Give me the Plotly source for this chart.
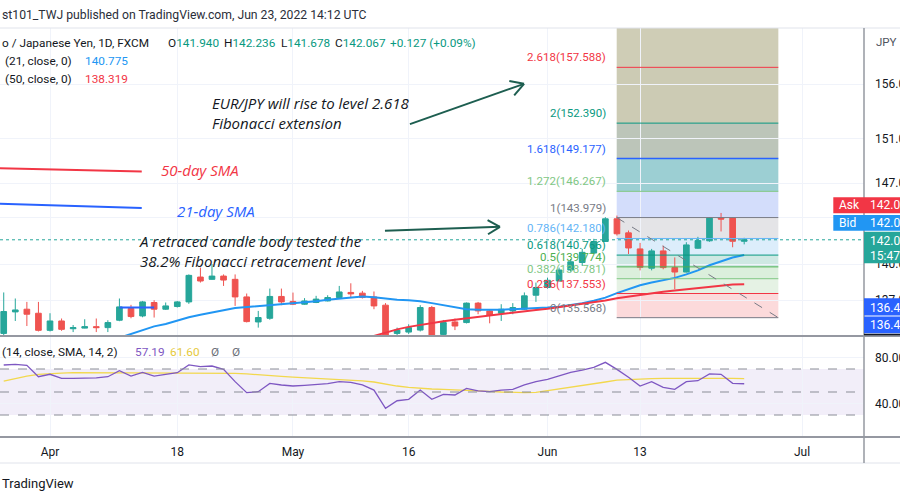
import math
import plotly.graph_objects as go

# ---------------- data ----------------
bar_index = list(range(-4, 61))
open_ = [134.29, 136.04, 136.26, 135.93, 134.54, 135.30, 134.67, 134.72, 134.84, 134.76,
         135.36, 136.32, 135.71, 136.81, 136.26, 136.48, 136.86, 138.92, 138.73, 139.00,
         138.73, 137.27, 135.22, 135.52, 137.31, 136.90, 136.67, 136.81, 136.94, 137.22,
         137.64, 137.58, 137.27, 136.59, 134.29, 134.40, 134.56, 136.40, 134.21, 135.22,
         135.17, 136.76, 136.12, 135.93, 136.12, 136.26, 137.41, 138.05, 138.59, 139.51,
         140.14, 140.94, 141.92, 143.87, 142.66, 141.29, 139.66, 141.12, 139.71, 139.34,
         141.35, 141.98, 143.93, 143.93, 141.940]
high = [137.64, 137.14, 136.86, 136.86, 135.93, 135.50, 134.97, 135.44, 135.50, 135.36,
        137.14, 136.62, 136.94, 137.00, 136.81, 136.94, 139.14, 139.71, 140.00, 139.14,
        139.14, 137.55, 136.12, 137.96, 137.96, 137.63, 137.17, 137.36, 137.41, 138.18,
        138.40, 137.77, 137.72, 136.76, 134.76, 135.03, 136.59, 136.53, 135.38, 135.50,
        136.81, 136.86, 136.20, 136.67, 136.76, 137.64, 138.46, 138.87, 139.71, 140.43,
        141.29, 142.15, 144.01, 144.15, 142.86, 141.80, 141.29, 141.57, 140.57, 141.86,
        142.32, 143.98, 144.38, 143.98, 142.236]
low = [133.90, 135.30, 134.89, 134.45, 134.45, 134.50, 134.40, 134.70, 134.40, 134.40,
       135.28, 135.52, 135.60, 135.58, 136.20, 136.40, 136.70, 138.46, 138.70, 138.18,
       136.53, 135.18, 134.76, 135.40, 136.59, 136.60, 136.62, 136.76, 136.90, 137.18,
       137.22, 137.14, 136.26, 133.50, 134.10, 134.25, 134.45, 133.60, 134.05, 134.56,
       135.10, 135.85, 135.11, 135.30, 135.85, 136.20, 136.86, 137.95, 138.55, 139.37,
       139.85, 140.90, 141.88, 142.43, 140.86, 139.48, 139.48, 139.57, 137.91, 139.30,
       141.30, 141.90, 142.78, 141.43, 141.678]
close = [136.07, 136.20, 135.85, 134.54, 135.30, 134.62, 134.76, 134.84, 134.76, 135.17,
         136.45, 135.66, 136.86, 136.26, 136.53, 136.86, 139.06, 138.59, 139.00, 138.67,
         137.27, 135.25, 135.58, 137.31, 136.86, 136.67, 136.94, 137.09, 137.22, 137.68,
         137.52, 137.22, 136.53, 133.70, 134.56, 134.76, 136.40, 133.80, 135.17, 134.89,
         136.76, 136.12, 135.77, 136.26, 136.40, 137.36, 138.05, 138.65, 139.51, 140.20,
         141.00, 141.92, 143.87, 142.58, 141.37, 139.74, 141.12, 139.71, 139.34, 141.63,
         142.00, 143.93, 143.85, 141.94, 142.067]

sma21_index = list(range(6, 61))
sma21 = [133.94, 134.25, 134.57, 134.86, 135.06, 135.36, 135.60, 135.81, 136.02, 136.18,
         136.35, 136.43, 136.51, 136.57, 136.67, 136.73, 136.81, 136.92, 137.04, 137.14,
         137.22, 137.30, 137.25, 137.12, 137.04, 137.00, 136.92, 136.76, 136.59, 136.39,
         136.26, 136.22, 136.20, 136.22, 136.26, 136.30, 136.32, 136.39, 136.47, 136.59,
         136.76, 136.96, 137.21, 137.58, 137.91, 138.24, 138.46, 138.65, 138.85, 139.14,
         139.48, 139.91, 140.26, 140.56, 140.775]
sma50_index = list(range(28, 61))
sma50 = [134.08, 134.37, 134.62, 134.82, 134.99, 135.13, 135.28, 135.40, 135.52, 135.63,
         135.74, 135.89, 135.99, 136.10, 136.20, 136.30, 136.43, 136.55, 136.67, 136.81,
         136.98, 137.16, 137.31, 137.45, 137.58, 137.70, 137.80, 137.91, 138.01, 138.11,
         138.21, 138.29, 138.319]

rsi = [73.5, 74.1, 73.2, 63.3, 65.4, 61.9, 61.9, 61.9, 62.2, 63.3,
       68.5, 63.9, 67.1, 63.9, 65.4, 66.8, 73.5, 72.0, 72.6, 69.7,
       59.0, 49.4, 50.3, 57.5, 56.1, 55.2, 55.8, 56.4, 57.3, 59.0,
       58.4, 56.1, 51.7, 35.8, 42.4, 43.6, 51.7, 43.6, 48.0, 47.4,
       53.2, 50.9, 50.3, 51.7, 52.3, 56.1, 59.0, 61.0, 64.2, 67.1,
       69.1, 71.4, 75.8, 69.7, 62.8, 55.2, 59.0, 54.1, 52.3, 59.0,
       59.8, 65.7, 65.4, 57.5, 57.19]
rsi_ma = [59.5, 61.9, 63.9, 65.4, 66.2, 66.5, 66.8, 66.8, 66.8, 66.8,
          66.8, 66.7, 66.5, 66.5, 66.5, 66.4, 66.5, 66.7, 66.8, 66.8,
          66.2, 65.7, 64.8, 64.2, 63.6, 63.0, 62.5, 61.9, 61.3, 60.7,
          60.1, 59.6, 58.7, 56.7, 55.2, 54.1, 53.2, 52.6, 52.3, 52.0,
          51.7, 51.2, 50.6, 50.0, 49.4, 49.4, 49.7, 51.2, 52.6, 53.8,
          55.2, 57.0, 58.7, 60.4, 61.0, 61.3, 61.6, 61.9, 61.9, 62.2,
          62.2, 62.5, 62.2, 61.9, 61.60]

tick_index = [0, 11, 21, 31, 43, 51, 65]
tick_text = ["Apr", "18", "May", "16", "Jun", "13", "Jul"]
price_ticks = [137, 140, 144, 147, 151, 156]
price_tick_text = ["137.000", "140.000", "", "147.000", "151.000", "156.000"]
rsi_ticks = [40, 80]
rsi_levels = [30, 50, 70]

fib_levels = ["0", "0.236", "0.382", "0.5", "0.618", "0.786", "1", "1.272", "1.618", "2", "2.618"]
fib_prices = [135.568, 137.553, 138.781, 139.774, 140.766, 142.180, 143.979, 146.267, 149.177, 152.390, 157.588]
fib_colors = ["#787b86", "#f23645", "#81c784", "#4caf50", "#089981", "#64b5f6",
              "#787b86", "#81c784", "#2962ff", "#089981", "#f23645"]
fib_fills = ["#fcdadb", "#e5f2e4", "#dbefdc", "#cee8e3", "#dcedfb", "#e4e4e7",
             "#d3ddfb", "#9ccfd3", "#bcc5b9", "#cccbb4", "#cfcdb6"]
fib_x = [48.98, 62.95]

# ---------------- geometry ----------------
W, H = 900, 500
PX_R = 864          # right edge of panes
TOP, SEP, RB = 28, 336, 437
PH = RB - TOP
def py(Y):          # pixel row -> paper y
    return (RB - Y) / PH
def px(X):
    return X / PX_R

main_dom = [py(SEP), 1]
rsi_dom = [0, py(SEP)]
x_range = [-4.3215, 70.354]
y_range = [2.127373, 2.207791]
rsi_range = [10.87, 98.70]

UP, DN = "#26a69a", "#ef5350"
TXT = "#131722"
GRID = "#f0f3fa"
FONT = "Roboto"

fig = go.Figure()
fig.add_trace(go.Candlestick(
    x=bar_index, open=open_, high=high, low=low, close=close,
    increasing=dict(line=dict(color=UP, width=1), fillcolor=UP),
    decreasing=dict(line=dict(color=DN, width=1), fillcolor=DN),
    whiskerwidth=0, xaxis="x", yaxis="y", showlegend=False, hoverinfo="skip"))
fig.add_trace(go.Scatter(x=sma21_index, y=sma21, mode="lines",
                         line=dict(color="#2196f3", width=2), xaxis="x", yaxis="y",
                         showlegend=False, hoverinfo="skip"))
fig.add_trace(go.Scatter(x=sma50_index, y=sma50, mode="lines",
                         line=dict(color="#f23645", width=2), xaxis="x", yaxis="y",
                         showlegend=False, hoverinfo="skip"))
fig.add_trace(go.Scatter(x=bar_index, y=rsi_ma, mode="lines",
                         line=dict(color="#f2d84e", width=1.3), xaxis="x2", yaxis="y2",
                         showlegend=False, hoverinfo="skip"))
fig.add_trace(go.Scatter(x=bar_index, y=rsi, mode="lines",
                         line=dict(color="#7e57c2", width=1.3), xaxis="x2", yaxis="y2",
                         showlegend=False, hoverinfo="skip"))

shapes = []
# fib fills (between consecutive levels; last one up past the pane top)
for i in range(1, len(fib_prices) + 1):
    lo = fib_prices[i - 1]
    hi = fib_prices[i] if i < len(fib_prices) else 170.0
    shapes.append(dict(type="rect", xref="x", yref="y", x0=fib_x[0], x1=fib_x[1],
                       y0=lo, y1=hi, fillcolor=fib_fills[i - 1], line=dict(width=0),
                       layer="below"))
for p, c, lv in zip(fib_prices, fib_colors, fib_levels):
    shapes.append(dict(type="line", xref="x", yref="y", x0=fib_x[0], x1=fib_x[1],
                       y0=p, y1=p, line=dict(color=c, width=1.5 if lv == "1.618" else 1)))
shapes.append(dict(type="line", xref="x", yref="y", x0=fib_x[0], x1=fib_x[1],
                   y0=fib_prices[6], y1=fib_prices[0],
                   line=dict(color="#787b86", width=1, dash="dash")))
# RSI band and levels
shapes.append(dict(type="rect", xref="paper", yref="y2", x0=0, x1=1, y0=30, y1=70,
                   fillcolor="#f2eef9", line=dict(width=0), layer="below"))
for lv in rsi_levels:
    shapes.append(dict(type="line", xref="paper", yref="y2", x0=0, x1=1, y0=lv, y1=lv,
                       line=dict(color="#8a8d96", width=1, dash="dash")))
# last price dotted line
shapes.append(dict(type="line", xref="paper", yref="y", x0=0, x1=1, y0=close[-1], y1=close[-1],
                   line=dict(color="#26a69a", width=1, dash="dot")))
# drawing: blue short segment
shapes.append(dict(type="line", xref="x", yref="y", x0=6, x1=9, y0=136.4, y1=136.4,
                   line=dict(color="#2962ff", width=2)))
# drawing: SMA legend lines
shapes.append(dict(type="line", xref="x", yref="y", x0=-4.4, x1=7.93, y0=148.31, y1=148.01,
                   line=dict(color="#f23645", width=2)))
shapes.append(dict(type="line", xref="x", yref="y", x0=-4.4, x1=7.93, y0=145.18, y1=144.81,
                   line=dict(color="#2962ff", width=2)))
# drawing: arrows
ARW = "#1d5e50"
arrows = [
    [(31.11, 152.30), (40.97, 156.03), (39.70, 156.29), (40.12, 154.96)],
    [(28.95, 142.84), (38.89, 143.18), (37.82, 143.75), (37.86, 142.54)],
]
for s, t, h1, h2 in arrows:
    for a in (s, h1, h2):
        shapes.append(dict(type="line", xref="x", yref="y", x0=a[0], y0=a[1], x1=t[0], y1=t[1],
                           line=dict(color=ARW, width=2)))

# frame lines
shapes += [
    dict(type="line", xref="paper", yref="paper", x0=0, x1=W / PX_R, y0=py(TOP), y1=py(TOP),
         line=dict(color="#e0e3eb", width=1)),
    dict(type="line", xref="paper", yref="paper", x0=0, x1=W / PX_R, y0=py(SEP), y1=py(SEP),
         line=dict(color="#9598a1", width=2)),
    dict(type="line", xref="paper", yref="paper", x0=0, x1=W / PX_R, y0=py(RB), y1=py(RB),
         line=dict(color="#9598a1", width=2)),
    dict(type="line", xref="paper", yref="paper", x0=0, x1=W / PX_R, y0=py(463), y1=py(463),
         line=dict(color="#e0e3eb", width=1)),
    dict(type="line", xref="paper", yref="paper", x0=1, x1=1, y0=py(TOP), y1=py(463),
         line=dict(color="#9598a1", width=1.5)),
]
# right-scale price label boxes
boxes = [
    (833.3, 900, 197.3, 213.3, "#f23645"),
    (833.3, 900, 215.0, 230.7, "#2196f3"),
    (864, 900, 231.7, 263.3, "#26a69a"),
    (864, 900, 298.3, 315.6, "#2962ff"),
    (864, 900, 316.4, 333.3, "#2962ff"),
]
for x0, x1, y0, y1, c in boxes:
    shapes.append(dict(type="rect", xref="paper", yref="paper", x0=px(x0), x1=px(x1),
                       y0=py(y1), y1=py(y0), fillcolor=c, line=dict(width=0), layer="above"))
shapes.append(dict(type="line", xref="paper", yref="paper", x0=1, x1=W / PX_R,
                   y0=py(334.5), y1=py(334.5), line=dict(color="#131722", width=1.5)))

ann = []
def txt(x, y, s, color=TXT, size=12, xanchor="left", yanchor="middle", xref="paper",
        yref="paper", family=FONT, yshift=0):
    ann.append(dict(x=x, y=y, xref=xref, yref=yref, text=s, showarrow=False,
                    xanchor=xanchor, yanchor=yanchor, yshift=yshift, align="left",
                    font=dict(color=color, size=size, family=family)))

LF = 11.8
# header
txt(0, py(15), "st101_TWJ published on TradingView.com, Jun 23, 2022 14:12 UTC", "#2a2e39", 12.2)
txt(0, py(43.3), "o / Japanese Yen, 1D, FXCM", TXT, LF)
G = "#089981"
for X, lab, val in [(165.7, "O", "141.940"), (221.7, "H", "142.236"),
                    (279, "L", "141.678"), (333, "C", "142.067")]:
    txt(px(X), py(43.3), f"{lab}<span style='color:{G}'>{val}</span>", TXT, LF)
txt(px(388), py(43.3), "+0.127 (+0.09%)", G, LF)
txt(px(2.7), py(61), "(21, close, 0)", TXT, LF)
txt(px(82.7), py(61), "140.775", "#2196f3", LF)
txt(px(2.7), py(78.7), "(50, close, 0)", TXT, LF)
txt(px(82.7), py(78.7), "138.319", "#f23645", LF)
# RSI legend
txt(0, py(352), "(14, close, SMA, 14, 2)", TXT, LF)
txt(px(133), py(352), "57.19", "#7e57c2", LF)
txt(px(167.6), py(352), "61.60", "#e6c93b", LF)
txt(px(209), py(352), "Ø", "#6a6d78", LF)
txt(px(230), py(352), "Ø", "#6a6d78", LF)
# watermark
txt(0, py(483), "TradingView", TXT, 13)
# right scale header
txt(px(874), py(42), "JPY", "#50535e", 11.5)
# price box texts
txt(px(837), py(205.3), "Ask", "white", 12)
txt(px(868), py(205.3), "142.084", "white", 12)
txt(px(837), py(222.9), "Bid", "white", 12)
txt(px(868), py(222.9), "142.067", "white", 12)
txt(px(868), py(240.5), "142.067", "white", 12)
txt(px(868), py(255.5), "15:47:52", "white", 12)
txt(px(868), py(307.5), "136.423", "white", 12)
txt(px(868), py(325.0), "136.400", "white", 12)

# fib labels
for p, c, lv in zip(fib_prices, fib_colors, fib_levels):
    txt(48.2, math.log10(p), f"{lv}({p:.3f})", c, 11.5, xanchor="right", xref="x",
        yref="y", yshift=10)

# chart text drawings
IT = "Open Sans"
txt(9.42, math.log10(148.16), "<i>50-day SMA</i>", "#f23645", 15, xref="x", yref="y", family=IT)
txt(10.8, math.log10(144.51), "<i>21-day SMA</i>", "#2962ff", 15, xref="x", yref="y", family=IT)
txt(13.83, math.log10(153.3), "<i>EUR/JPY will rise to level 2.618<br>Fibonacci extension</i>",
    "#131722", 15, xref="x", yref="y", family=IT)
txt(7.52, math.log10(141.12),
    "<i>A retraced candle body tested the<br>38.2% Fibonacci retracement level</i>",
    "#131722", 15, xref="x", yref="y", family=IT)

fig.update_layout(
    width=W, height=H, autosize=False, margin=dict(l=0, r=W - PX_R, t=TOP, b=H - RB),
    paper_bgcolor="white", plot_bgcolor="white", showlegend=False,
    font=dict(family=FONT, color=TXT, size=12),
    xaxis=dict(domain=[0, 1], anchor="y", range=x_range, tickvals=tick_index,
               showticklabels=False, showgrid=True, gridcolor=GRID, zeroline=False,
               rangeslider=dict(visible=False), ticks="", automargin=False),
    yaxis=dict(domain=main_dom, anchor="x", type="log", range=y_range, side="right",
               tickvals=price_ticks, ticktext=price_tick_text,
               showgrid=True, gridcolor=GRID, zeroline=False, ticks="", automargin=False,
               ticklabelstandoff=10, tickfont=dict(size=12, color=TXT)),
    xaxis2=dict(domain=[0, 1], anchor="y2", matches="x", range=x_range,
                tickvals=tick_index, ticktext=tick_text, showgrid=True, gridcolor=GRID,
                zeroline=False, ticks="", ticklabelstandoff=6, automargin=False,
                tickfont=dict(size=12, color=TXT)),
    yaxis2=dict(domain=rsi_dom, anchor="x2", range=rsi_range, side="right",
                tickvals=rsi_ticks, ticktext=[f"{v:.2f}" for v in rsi_ticks],
                showgrid=True, gridcolor=GRID, zeroline=False, ticks="", automargin=False,
                ticklabelstandoff=10, tickfont=dict(size=12, color=TXT)),
    shapes=shapes, annotations=ann,
)
fig.write_html(
    "out.html",
    config={"responsive": False, "displayModeBar": False},
    post_script="document.body.style.margin='0';document.body.style.overflow='hidden';")
